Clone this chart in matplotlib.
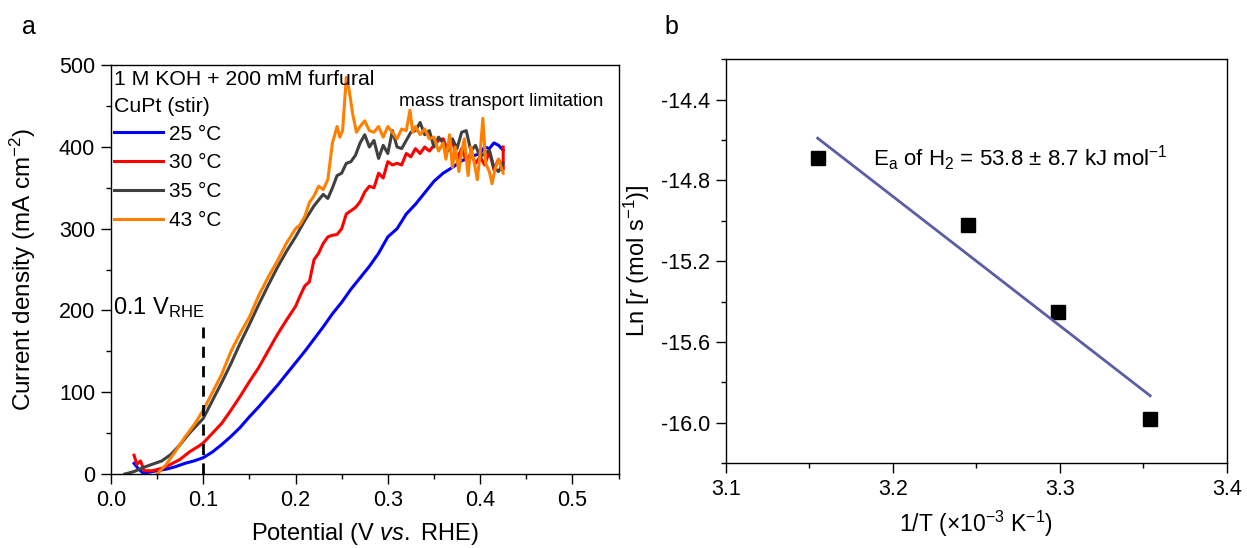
import matplotlib
matplotlib.use("Agg")
import matplotlib.pyplot as plt
import numpy as np
from matplotlib.ticker import MultipleLocator

plt.rcParams['font.family'] = ['Liberation Sans', 'DejaVu Sans']
plt.rcParams['mathtext.fontset'] = 'custom'
plt.rcParams['mathtext.rm'] = 'Liberation Sans'
plt.rcParams['mathtext.it'] = 'Liberation Sans:italic'

# LSV curves (potential in V vs RHE, current density in mA cm-2)
v_25 = [0.025, 0.03, 0.035, 0.04, 0.05, 0.06, 0.07, 0.08, 0.09, 0.10, 0.11, 0.12, 0.13,
        0.14, 0.15, 0.16, 0.17, 0.18, 0.19, 0.20, 0.21, 0.22, 0.23, 0.24, 0.25, 0.26,
        0.27, 0.28, 0.29, 0.30, 0.31, 0.32, 0.33, 0.34, 0.35, 0.36, 0.37, 0.38, 0.39,
        0.40, 0.405, 0.41, 0.415, 0.42, 0.425]
j_25 = [13, 6, 1, 2, 4, 6, 9, 13, 16, 20, 27, 36, 46, 57, 70, 82, 95, 108, 122, 136,
        150, 165, 180, 196, 210, 226, 240, 254, 270, 290, 300, 318, 330, 344, 358, 368,
        375, 383, 388, 392, 400, 398, 405, 402, 396]

v_30 = [0.025, 0.028, 0.032, 0.036, 0.045, 0.055, 0.065, 0.075, 0.085, 0.095, 0.10, 0.11,
        0.12, 0.13, 0.14, 0.15, 0.16, 0.17, 0.18, 0.19, 0.20, 0.205, 0.21, 0.215, 0.22,
        0.225, 0.23, 0.235, 0.24, 0.245, 0.25, 0.255, 0.26, 0.265, 0.27, 0.275, 0.28,
        0.285, 0.29, 0.295, 0.30, 0.305, 0.31, 0.315, 0.32, 0.325, 0.33, 0.335, 0.34,
        0.345, 0.35, 0.355, 0.36, 0.365, 0.37, 0.375, 0.38, 0.385, 0.39, 0.395, 0.40,
        0.405, 0.41, 0.415, 0.42, 0.425, 0.425]
j_30 = [23, 12, 16, 4, 4, 7, 12, 18, 27, 34, 38, 50, 62, 78, 95, 113, 130, 150, 170, 188,
        205, 218, 230, 235, 262, 270, 282, 290, 292, 293, 300, 318, 322, 326, 333, 345, 352,
        350, 368, 362, 382, 378, 380, 378, 392, 388, 398, 392, 400, 395, 402, 408, 410,
        395, 408, 385, 398, 383, 392, 380, 388, 378, 395, 372, 385, 372, 400]

v_35 = [0.015, 0.025, 0.035, 0.045, 0.055, 0.065, 0.075, 0.085, 0.095, 0.10, 0.11, 0.12,
        0.13, 0.14, 0.15, 0.16, 0.17, 0.18, 0.19, 0.20, 0.21, 0.22, 0.23, 0.235, 0.24,
        0.245, 0.25, 0.255, 0.26, 0.265, 0.27, 0.275, 0.28, 0.285, 0.29, 0.295, 0.30,
        0.305, 0.31, 0.315, 0.32, 0.325, 0.33, 0.335, 0.34, 0.345, 0.35, 0.355, 0.36,
        0.365, 0.37, 0.375, 0.38, 0.385, 0.39, 0.395, 0.40, 0.405, 0.41, 0.415, 0.42,
        0.425]
j_35 = [0, 3, 8, 12, 16, 24, 36, 50, 62, 68, 90, 112, 135, 160, 183, 207, 230, 252, 272,
        290, 310, 328, 342, 337, 350, 365, 368, 380, 382, 390, 405, 415, 400, 408, 386,
        402, 392, 420, 400, 398, 408, 418, 420, 430, 415, 420, 400, 412, 405, 395, 410,
        398, 418, 420, 395, 402, 388, 392, 396, 375, 370, 380]

v_43 = [0.05, 0.06, 0.07, 0.08, 0.09, 0.10, 0.11, 0.12, 0.13, 0.14, 0.15, 0.16, 0.17,
        0.18, 0.19, 0.20, 0.205, 0.21, 0.215, 0.22, 0.225, 0.23, 0.235, 0.24, 0.245,
        0.248, 0.251, 0.255, 0.258, 0.262, 0.266, 0.27, 0.275, 0.28, 0.285, 0.29, 0.295,
        0.30, 0.305, 0.31, 0.315, 0.32, 0.324, 0.327, 0.33, 0.335, 0.34, 0.345, 0.35,
        0.355, 0.36, 0.363, 0.367, 0.37, 0.373, 0.377, 0.38, 0.383, 0.387, 0.39, 0.393,
        0.397, 0.40, 0.403, 0.406, 0.41, 0.413, 0.416, 0.42, 0.425]
j_43 = [0, 12, 28, 45, 60, 78, 100, 122, 150, 172, 192, 218, 240, 260, 282, 300, 305,
        315, 332, 340, 352, 348, 360, 405, 425, 412, 420, 485, 470, 440, 418, 425, 432,
        420, 418, 425, 412, 425, 418, 410, 422, 420, 445, 418, 425, 415, 422, 410, 412,
        395, 405, 385, 415, 375, 400, 370, 395, 410, 365, 400, 385, 360, 392, 435, 380,
        370, 355, 372, 385, 368]

curves = [(v_25, j_25, '#0000FF', '25 \u00b0C'),
          (v_30, j_30, '#FF0000', '30 \u00b0C'),
          (v_35, j_35, '#404040', '35 \u00b0C'),
          (v_43, j_43, '#FF8000', '43 \u00b0C')]

# Arrhenius data
inv_T = [3.155, 3.245, 3.299, 3.354]
ln_r = [-14.69, -15.02, -15.45, -15.98]

fig = plt.figure(figsize=(12.47, 5.48), dpi=100)
ax1 = fig.add_axes([0.089, 0.135, 0.407, 0.746])
ax2 = fig.add_axes([0.582, 0.155, 0.402, 0.737])

for v, j, c, lab in curves:
    ax1.plot(v, j, color=c, lw=2.2, label=lab)

ax1.plot([0.1, 0.1], [0, 180], color='black', lw=2, ls=(0, (4, 3)))
ax1.text(0.002, 203, '0.1 V$_{\\mathregular{RHE}}$', fontsize=17, va='center')
ax1.text(0.003, 482, '1 M KOH + 200 mM furfural', fontsize=15.3, va='center')
ax1.text(0.003, 449, 'CuPt (stir)', fontsize=15.3, va='center')
ax1.text(0.312, 456, 'mass transport limitation', fontsize=13.7, va='center')
ax1.legend(loc='upper left', bbox_to_anchor=(-0.01, 0.875), frameon=False,
           fontsize=15, handlelength=2.35, handletextpad=0.3, labelspacing=0.47,
           borderaxespad=0)

ax1.set_xlim(0, 0.55)
ax1.set_ylim(0, 500)
ax1.xaxis.set_major_locator(MultipleLocator(0.1))
ax1.xaxis.set_minor_locator(MultipleLocator(0.05))
ax1.yaxis.set_major_locator(MultipleLocator(100))
ax1.yaxis.set_minor_locator(MultipleLocator(50))
ax1.set_xticks([0, 0.1, 0.2, 0.3, 0.4, 0.5])
ax1.set_xticklabels(['0.0', '0.1', '0.2', '0.3', '0.4', '0.5'])
ax1.set_xlabel('Potential (V $\\mathit{vs.}$ RHE)', fontsize=17, labelpad=7)
ax1.set_ylabel('Current density (mA cm$^{\\mathregular{-2}}$)', fontsize=17.5, labelpad=15)
fig.text(0.018, 0.95, 'a', fontsize=18, va='center')

ax2.plot(inv_T, ln_r, 's', color='black', ms=10)
slope, intercept = np.polyfit(inv_T, ln_r, 1)
xfit = np.array([inv_T[0], inv_T[-1]])
ax2.plot(xfit, slope * xfit + intercept, color='#5B5EA6', lw=2)
ax2.text(3.188, -14.69, 'E$_\\mathregular{a}$ of H$_\\mathregular{2}$ = 53.8 \u00b1 8.7 kJ mol$^{\\mathregular{-1}}$',
         fontsize=16, va='center')

ax2.set_xlim(3.1, 3.4)
ax2.set_ylim(-16.2, -14.2)
ax2.xaxis.set_major_locator(MultipleLocator(0.1))
ax2.xaxis.set_minor_locator(MultipleLocator(0.05))
ax2.yaxis.set_major_locator(MultipleLocator(0.4))
ax2.yaxis.set_minor_locator(MultipleLocator(0.2))
ax2.set_yticks([-14.4, -14.8, -15.2, -15.6, -16.0])
ax2.set_yticklabels(['-14.4', '-14.8', '-15.2', '-15.6', '-16.0'])
ax2.set_xlabel('1/T (\u00d710$^{\\mathregular{-3}}$ K$^{\\mathregular{-1}}$)', fontsize=16.5, labelpad=6)
ax2.set_ylabel('Ln [$\\mathit{r}$ (mol s$^{\\mathregular{-1}}$)]', fontsize=17, labelpad=6)
fig.text(0.533, 0.95, 'b', fontsize=18, va='center')

for ax in (ax1, ax2):
    ax.tick_params(which='both', direction='out', top=False, right=False)
    ax.tick_params(which='major', length=7, width=1, pad=4.5, labelsize=15.5)
    ax.tick_params(which='minor', length=3.5, width=1)
    for s in ax.spines.values():
        s.set_linewidth(1)

fig.savefig('out.png', dpi=100)
